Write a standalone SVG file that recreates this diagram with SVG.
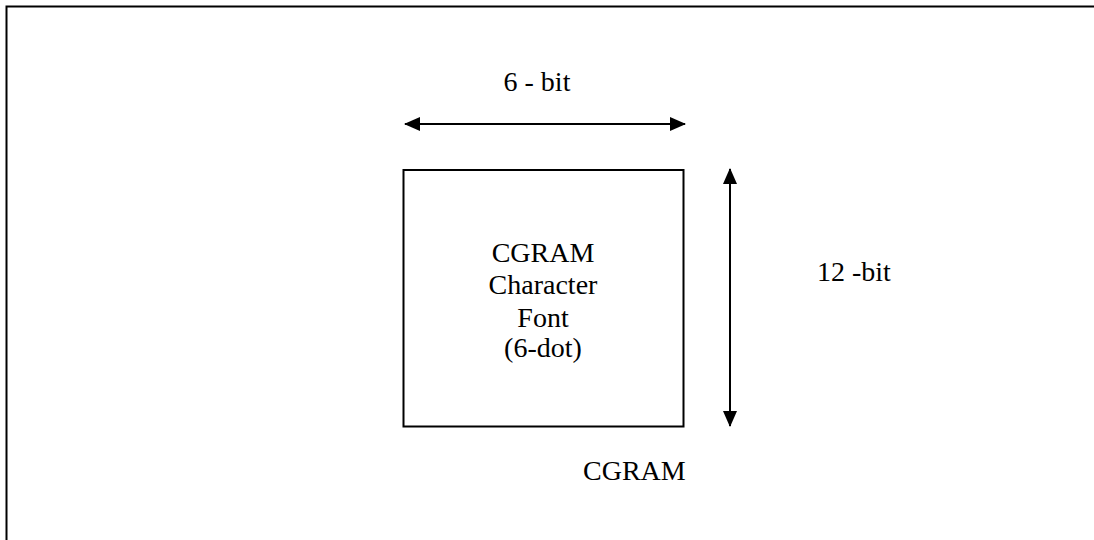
<svg xmlns="http://www.w3.org/2000/svg" width="1094" height="540" viewBox="0 0 1094 540">
<style>
text{font-family:"Liberation Serif","Times New Roman",serif;font-size:28px;fill:#000}
.ln{stroke:#000;stroke-width:2;fill:none}
</style>
<defs>
<marker id="ah" markerWidth="16" markerHeight="14" refX="15" refY="7" orient="auto-start-reverse" markerUnits="userSpaceOnUse" viewBox="0 0 16 14">
<path d="M0,0 L16,7 L0,14 Z" fill="#000"/>
</marker>
</defs>
<rect x="0" y="0" width="1094" height="540" fill="#fff"/>
<g id="frame"><path class="ln" d="M6.5,541 V6.5 H1095"/></g>
<g id="cgram-box">
<rect class="ln" x="403.5" y="170" width="280" height="256.5"/>
<text x="543" y="262" text-anchor="middle">CGRAM</text>
<text x="543" y="293.5" text-anchor="middle">Character</text>
<text x="543" y="326.5" text-anchor="middle">Font</text>
<text x="543" y="357" text-anchor="middle">(6-dot)</text>
</g>
<g id="label-6bit"><text x="537" y="91" text-anchor="middle">6 - bit</text></g>
<g id="label-12bit"><text x="817" y="281">12 -bit</text></g>
<g id="label-cgram"><text x="583" y="480">CGRAM</text></g>
<g id="connectors">
<line class="ln" x1="405" y1="124" x2="685" y2="124" marker-start="url(#ah)" marker-end="url(#ah)"/>
<line class="ln" x1="730" y1="169" x2="730" y2="426" marker-start="url(#ah)" marker-end="url(#ah)"/>
</g>
</svg>
